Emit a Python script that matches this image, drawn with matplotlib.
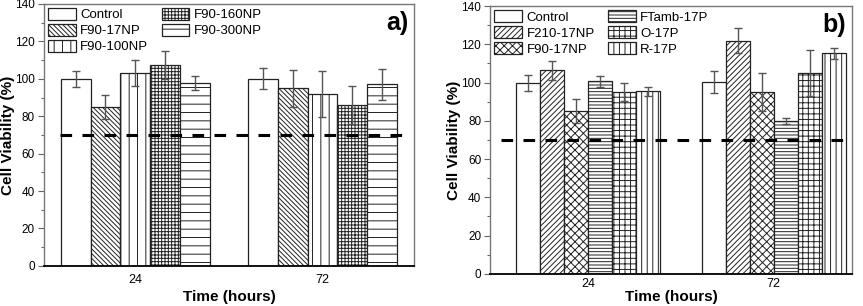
import matplotlib.pyplot as plt
import numpy as np

plt.rcParams['font.family'] = ['Liberation Sans', 'DejaVu Sans']
plt.rcParams['hatch.linewidth'] = 0.7

times = ['24', '72']

# panel a
labels_a = ['Control', 'F90-17NP', 'F90-100NP', 'F90-160NP', 'F90-300NP']
means_a = [[100, 100], [84.8, 94.9], [103, 92.1], [107.4, 85.9], [97.8, 97.1]]
errs_a = [[4.2, 5.6], [6.4, 10], [7, 12.3], [7.5, 10], [3.6, 8.3]]
hatch_a = ['', '\\\\\\\\\\\\\\', '||', '+++++', '--']

# panel b
labels_b = ['Control', 'F210-17NP', 'F90-17NP', 'FTamb-17P', 'O-17P', 'R-17P']
means_b = [[100, 100.3], [106.4, 121.9], [85, 95.1], [100.7, 80.1], [95, 104.9], [95.5, 115.3]]
errs_b = [[4.2, 5.7], [5, 6.4], [6.3, 10], [3, 1.6], [4.6, 12], [2.3, 3]]
hatch_b = ['', '//////', 'xxxx', '-----', '+++', '|||']

threshold = 70

fig = plt.figure(figsize=(8.63, 3.06), dpi=100)
ax1 = fig.add_axes([0.051, 0.131, 0.429, 0.856])
ax2 = fig.add_axes([0.568, 0.105, 0.419, 0.875])


def draw(ax, labels, means, errs, hatches, width, xlim, tag, line_x, xpad, lpad):
    x = np.arange(1, len(times) + 1)
    n = len(labels)
    for i in range(n):
        pos = x + (i - (n - 1) / 2) * width
        ax.bar(pos, means[i], width, color='white', edgecolor='#222222',
               linewidth=0.9, hatch=hatches[i], label=labels[i], zorder=2)
        ax.errorbar(pos, means[i], yerr=errs[i], fmt='none', ecolor='#555555',
                    elinewidth=1.0, capsize=3, capthick=1.0, zorder=3)
    ax.hlines(threshold, line_x[0], line_x[1], colors='black', linestyles=(0, (3.8, 3.4)),
              linewidth=2.2, zorder=4)
    ax.set_xlim(*xlim)
    ax.set_ylim(0, 140)
    ax.set_xticks(x)
    ax.set_xticklabels(times, fontsize=9)
    ax.tick_params(axis='x', length=0, pad=xpad)
    ax.set_yticks(np.arange(0, 141, 20))
    ax.set_yticks(np.arange(0, 141, 10), minor=True)
    ax.tick_params(axis='y', labelsize=8.5, length=4, width=0.8, color='#666666', pad=2.5)
    ax.tick_params(axis='y', which='minor', length=2.5, width=0.8, color='#666666')
    for s in ['top', 'right', 'left']:
        ax.spines[s].set_color('#777777')
        ax.spines[s].set_linewidth(1.0)
    ax.spines['bottom'].set_linewidth(1.3)
    ax.set_xlabel('Time (hours)', fontsize=11, fontweight='bold', labelpad=lpad)
    ax.set_ylabel('Cell Viability (%)', fontsize=11, fontweight='bold', labelpad=0)
    ax.text(0.985, 0.975, tag, transform=ax.transAxes, ha='right', va='top',
            fontsize=18, fontweight='bold')
    ax.legend(loc='upper left', ncol=2, frameon=False, fontsize=9.5,
              handlelength=2.1, handleheight=1.0, handletextpad=0.35,
              columnspacing=1.0, labelspacing=0.2, borderaxespad=0.2,
              borderpad=0.1)


draw(ax1, labels_a, means_a, errs_a, hatch_a, 0.159, (0.513, 2.49), 'a)', (0.6, 2.45), 6, 3)
draw(ax2, labels_b, means_b, errs_b, hatch_b, 0.129, (0.473, 2.42), 'b)', (0.53, 2.42), 3, 0)

plt.savefig('out.png', dpi=100)
